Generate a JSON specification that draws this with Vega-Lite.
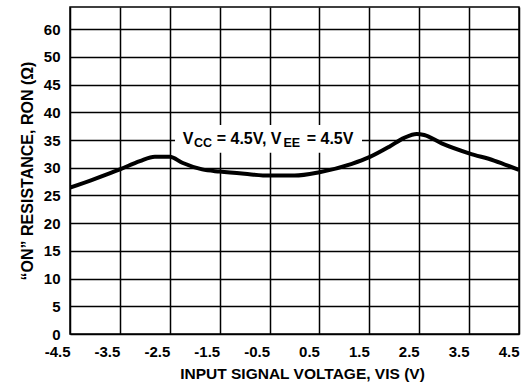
{
  "$schema": "https://vega.github.io/schema/vega-lite/v6.json",
  "width": 449,
  "height": 327,
  "autosize": {"type": "none"},
  "padding": {"left": 70, "top": 7, "right": 3, "bottom": 49},
  "background": "white",
  "config": {
    "font": "Liberation Sans",
    "view": {"stroke": "black", "strokeWidth": 1.5}
  },
  "encoding": {
    "x": {
      "field": "x",
      "type": "quantitative",
      "scale": {"domain": [-4.5, 4.5], "nice": false, "zero": false},
      "axis": {
        "values": [-4.5, -3.5, -2.5, -1.5, -0.5, 0.5, 1.5, 2.5, 3.5, 4.5],
        "labelExpr": "toString(datum.value)",
        "title": "INPUT SIGNAL VOLTAGE, VIS (V)",
        "titleFont": "Liberation Sans",
        "titleFontSize": 15.5,
        "titleFontWeight": "bold",
        "titleColor": "black",
        "titlePadding": 7,
        "titleX": 232,
        "labelFont": "Liberation Sans",
        "labelFontSize": 15,
        "labelFontWeight": "bold",
        "labelColor": "black",
        "labelAlign": "right",
        "labelDx": 6,
        "labelPadding": 10,
        "labelFlush": false,
        "labelOverlap": false,
        "ticks": false,
        "domain": false,
        "grid": true,
        "gridColor": "black",
        "gridWidth": 1.5,
        "gridOpacity": 1
      }
    },
    "y": {
      "field": "y",
      "type": "quantitative",
      "scale": {"domain": [0, 59], "nice": false, "zero": true},
      "axis": {
        "values": [0, 5, 10, 15, 20, 25, 30, 35, 40, 45, 50, 55],
        "labelExpr": "datum.value == 55 ? '60' : datum.label",
        "title": "“ON” RESISTANCE, RON (Ω)",
        "titleFont": "Liberation Sans",
        "titleFontSize": 16,
        "titleFontWeight": "bold",
        "titleColor": "black",
        "titlePadding": 8,
        "labelFont": "Liberation Sans",
        "labelFontSize": 15,
        "labelFontWeight": "bold",
        "labelColor": "black",
        "labelPadding": 10,
        "labelBaseline": "middle",
        "labelDy": -4,
        "labelFlush": false,
        "labelOverlap": false,
        "ticks": false,
        "domain": false,
        "grid": true,
        "gridColor": "black",
        "gridWidth": 1.5,
        "gridOpacity": 1
      }
    }
  },
  "layer": [
    {
      "data": {"values": [{"x": -2.395, "x2": 1.353, "y": 32.7, "y2": 37.7}]},
      "mark": {"type": "rect", "fill": "white", "stroke": null},
      "encoding": {
        "x2": {"field": "x2"},
        "y2": {"field": "y2"}
      }
    },
    {
      "data": {"values": [
        {"x": -2.241, "y": 34.28, "t": "V"},
        {"x": -1.559, "y": 34.28, "t": "= 4.5V, V"},
        {"x": 0.245, "y": 34.28, "t": "= 4.5V"}
      ]},
      "mark": {"type": "text", "align": "left", "baseline": "alphabetic", "fontSize": 16, "fontWeight": "bold", "font": "Liberation Sans", "color": "black"},
      "encoding": {"text": {"field": "t"}}
    },
    {
      "data": {"values": [
        {"x": -2.014, "y": 34.28, "t": "CC"},
        {"x": -0.22, "y": 34.28, "t": "EE"}
      ]},
      "mark": {"type": "text", "align": "left", "baseline": "alphabetic", "fontSize": 12.5, "fontWeight": "bold", "font": "Liberation Sans", "color": "black", "dy": 3},
      "encoding": {"text": {"field": "t"}}
    },
    {
      "data": {"values": [
        {"x": -4.5, "y": 26.4},
        {"x": -4.0, "y": 28.0},
        {"x": -3.5, "y": 29.7},
        {"x": -3.1, "y": 31.2},
        {"x": -2.8, "y": 32.0},
        {"x": -2.5, "y": 32.0},
        {"x": -2.25, "y": 30.9},
        {"x": -1.85, "y": 29.7},
        {"x": -1.5, "y": 29.3},
        {"x": -1.0, "y": 28.9},
        {"x": -0.5, "y": 28.6},
        {"x": 0.0, "y": 28.6},
        {"x": 0.5, "y": 29.2},
        {"x": 1.15, "y": 30.7},
        {"x": 1.5, "y": 31.9},
        {"x": 1.9, "y": 33.8},
        {"x": 2.2, "y": 35.4},
        {"x": 2.45, "y": 36.1},
        {"x": 2.6, "y": 35.9},
        {"x": 2.95, "y": 34.4},
        {"x": 3.5, "y": 32.6},
        {"x": 4.0, "y": 31.3},
        {"x": 4.5, "y": 29.6}
      ]},
      "mark": {"type": "line", "color": "black", "strokeWidth": 4, "interpolate": "monotone", "clip": true},
      "encoding": {}
    }
  ]
}
